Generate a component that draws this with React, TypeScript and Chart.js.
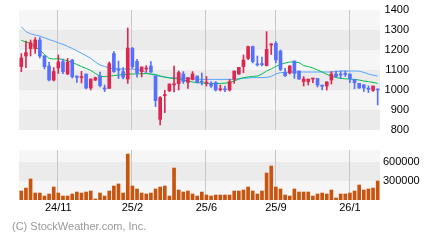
import React, { useEffect, useRef } from "react";
import { Chart, registerables } from "chart.js";
Chart.register(...registerables);

const opens = [1117,1170,1207,1207,1250,1170,1120,1050,1110,1142, 1080,1150,1070,1062,1080,1010,1050,1070,1008,1008, 1182,1103,1092,1055,1208,1143,1092,1105,1120,1070, 853,972,996,1026,1032,1080,1038,1053,1070,1042, 1034,1033,1037,1001,1004,1000,1053,1080,1117,1158, 1217,1130,1130,1122,1225,1233,1195,1087,1085,1145, 1095,1042,1042,1055,1058,1022,1020,1050,1080,1078, 1081,1080,1053,1033,1025,1007,998,1003];
const highs = [1182,1245,1250,1262,1262,1172,1138,1112,1175,1155, 1158,1153,1070,1093,1080,1055,1065,1090,1025,1140, 1192,1145,1112,1310,1213,1153,1115,1122,1142,1070, 967,998,1030,1120,1095,1092,1062,1092,1070,1085, 1068,1042,1042,1025,1020,1053,1095,1113,1175,1220, 1220,1170,1165,1292,1232,1242,1200,1108,1122,1145, 1095,1067,1055,1058,1058,1025,1042,1092,1095,1095, 1095,1080,1053,1033,1028,1020,1020,1005];
const lows = [1092,1112,1170,1183,1160,1105,1045,1045,1083,1082, 1077,1060,1038,1035,1005,1000,1047,1015,992,1008, 1088,1057,1056,1033,1108,1064,1065,1090,1087,917, 825,887,992,990,1000,1033,1008,1050,1035,1025, 1020,1013,995,995,992,995,1033,1078,1087,1152, 1135,1120,1120,1120,1178,1135,1097,1067,1080,1058, 1053,1020,1025,1037,1015,1000,1000,1030,1065,1058, 1068,1037,1006,1008,992,987,993,925];
const closes = [1160,1187,1237,1250,1170,1117,1050,1092,1140,1092, 1140,1067,1063,1066,1010,1055,1062,1022,1005,1132, 1092,1099,1064,1210,1117,1085,1115,1110,1090,947, 962,976,1030,1030,1087,1042,1062,1080,1038,1039, 1037,1020,1000,1004,1001,1042,1095,1113,1150,1217, 1142,1126,1127,1203,1230,1150,1103,1072,1120,1083, 1055,1055,1054,1058,1025,1019,1040,1080,1067,1075, 1078,1056,1037,1010,1010,1004,1020,1000];
const maLong = [1316,1292,1281,1275,1270,1261,1252,1245,1236,1228, 1218,1208,1196,1184,1172,1158,1140,1125,1118,1110, 1107,1106,1105,1105,1104,1102,1098,1086,1078,1073, 1068,1064,1062,1062,1061,1060,1058,1056,1054,1053, 1053,1053,1053,1053,1053,1053,1054,1056,1058,1060, 1062,1062,1062,1063,1068,1080,1087,1088,1090,1090, 1090,1090,1090,1090,1090,1090,1090,1090,1092,1095, 1095,1095,1095,1094,1088,1080,1074,1070];
const maShort = [1248,1240,1232,1215,1200,1177,1158,1155,1157,1152, 1146,1138,1128,1117,1108,1098,1083,1068,1067,1070, 1072,1075,1077,1080,1080,1080,1082,1082,1080,1078, 1070,1065,1060,1057,1055,1050,1045,1040,1037,1035, 1033,1033,1033,1033,1034,1037,1045,1055,1062,1065, 1068,1070,1080,1095,1105,1118,1128,1135,1140,1140, 1137,1122,1117,1110,1100,1090,1078,1070,1062,1058, 1056,1055,1053,1050,1045,1042,1038,1033];
const volumes = [142,189,332,110,110,63,95,205,110,63, 63,95,126,110,126,142,16,110,63,142, 221,253,110,726,221,174,110,95,110,174, 205,221,63,505,158,126,142,95,63,126, 79,63,79,79,79,79,142,142,158,205, 142,95,142,426,537,205,174,79,63,174, 126,126,126,63,95,110,95,158,32,95, 95,110,142,237,158,174,189,300].map((v) => v * 1000);
const tickIndex = [8, 24, 40, 55, 71];
const tickText = ["24/11", "25/2", "25/6", "25/9", "26/1"];
const priceTicks = [800, 900, 1000, 1100, 1200, 1300, 1400];
const volumeTicks = [300000, 600000];
const categories = opens.map((_, i) => "W" + (i + 1));

const UP = "#dc2850";
const DOWN = "#5570ff";
const LIGHT = "#f6f6f6";
const DARK = "#ebebeb";
const GRID = "#c8c8c8";
const FONT = { family: "'Liberation Sans', Arial, sans-serif", size: 11 };

const bgPlugin = {
  id: "bgbands",
  beforeDatasetsDraw(chart: any, _args: any, opts: any) {
    const { ctx, chartArea: a, scales } = chart;
    const y = scales.y;
    const x = scales.x;
    ctx.save();
    ctx.fillStyle = LIGHT;
    ctx.fillRect(a.left, a.top, a.right - a.left, a.bottom - a.top);
    ctx.fillStyle = DARK;
    for (const [lo, hi] of opts.dark || []) {
      const t = y.getPixelForValue(hi);
      const b = y.getPixelForValue(lo);
      ctx.fillRect(a.left, t, a.right - a.left, b - t);
    }
    ctx.strokeStyle = GRID;
    ctx.lineWidth = 1;
    for (const i of tickIndex) {
      const px = Math.round(x.getPixelForValue(i) - 1) + 0.5;
      ctx.beginPath();
      ctx.moveTo(px, a.top);
      ctx.lineTo(px, a.bottom);
      ctx.stroke();
    }
    ctx.restore();
  },
};

export default function App() {
  const priceRef = useRef<HTMLCanvasElement>(null);
  const volRef = useRef<HTMLCanvasElement>(null);

  useEffect(() => {
    const colors = opens.map((o, i) => (closes[i] >= o ? UP : DOWN));
    const price = new Chart(priceRef.current!, {
      type: "bar",
      data: {
        labels: categories,
        datasets: [
          {
            type: "line",
            data: maLong,
            borderColor: "#55a5ff",
            borderWidth: 1,
            pointRadius: 0,
            tension: 0,
            order: 5,
          } as any,
          {
            type: "line",
            data: maShort,
            borderColor: "#00bf4c",
            borderWidth: 1,
            pointRadius: 0,
            tension: 0,
            order: 4,
          } as any,
          {
            data: lows.map((l, i) => [l, highs[i]]),
            backgroundColor: colors,
            barThickness: 1,
            grouped: false,
            order: 2,
          } as any,
          {
            data: opens.map((o, i) => [o, closes[i]]),
            backgroundColor: colors,
            barThickness: 3,
            minBarLength: 1,
            grouped: false,
            order: 1,
          } as any,
        ],
      },
      options: {
        animation: false,
        responsive: false,
        devicePixelRatio: 1,
        events: [],
        layout: { padding: { left: 19, top: 10, bottom: 10, right: 31 } },
        plugins: {
          legend: { display: false },
          tooltip: { enabled: false },
          bgbands: { dark: [[800, 900], [1000, 1100], [1200, 1300]] },
        } as any,
        scales: {
          x: { type: "category", display: false, offset: true },
          y: {
            position: "right",
            min: 800,
            max: 1400,
            afterBuildTicks: (ax: any) => {
              ax.ticks = priceTicks.map((v) => ({ value: v }));
            },
            afterFit: (ax: any) => {
              ax.width = 29;
            },
            grid: { display: false, drawTicks: false },
            border: { display: false },
            ticks: {
              color: "#000",
              font: FONT,
              padding: 0,
              crossAlign: "far",
              callback: (v: any) => String(v),
            },
          },
        },
      },
      plugins: [bgPlugin],
    });

    const vol = new Chart(volRef.current!, {
      type: "bar",
      data: {
        labels: categories,
        datasets: [
          {
            data: volumes,
            backgroundColor: "#c8550f",
            barThickness: 3,
          },
        ],
      },
      options: {
        animation: false,
        responsive: false,
        devicePixelRatio: 1,
        events: [],
        layout: { padding: { left: 19, top: 10, bottom: 25, right: 0 } },
        plugins: {
          legend: { display: false },
          tooltip: { enabled: false },
          bgbands: { dark: [[300000, 600000]] },
        } as any,
        scales: {
          x: {
            type: "category",
            offset: true,
            grid: { display: false, drawTicks: false },
            border: { display: false },
            afterFit: (ax: any) => {
              ax.height = 15;
            },
            ticks: {
              autoSkip: false,
              maxRotation: 0,
              minRotation: 0,
              padding: 1,
              color: "#000",
              font: FONT,
              callback: (_v: any, i: number) => {
                const k = tickIndex.indexOf(i);
                return k >= 0 ? tickText[k] : "";
              },
            },
          },
          y: {
            position: "right",
            min: 0,
            max: 790000,
            afterBuildTicks: (ax: any) => {
              ax.ticks = volumeTicks.map((v) => ({ value: v }));
            },
            afterFit: (ax: any) => {
              ax.width = 60;
            },
            grid: { display: false, drawTicks: false },
            border: { display: false },
            ticks: {
              color: "#000",
              font: FONT,
              padding: 3,
              callback: (v: any) => String(v),
            },
          },
        },
      },
      plugins: [bgPlugin],
    });

    return () => {
      price.destroy();
      vol.destroy();
    };
  }, []);

  return (
    <div
      style={{
        position: "fixed",
        left: 0,
        top: 0,
        width: 440,
        height: 240,
        background: "#fff",
        overflow: "hidden",
      }}
    >
      <canvas
        ref={priceRef}
        width={440}
        height={140}
        style={{ position: "absolute", left: 0, top: 0, width: 440, height: 140 }}
      />
      <canvas
        ref={volRef}
        width={440}
        height={100}
        style={{ position: "absolute", left: 0, top: 140, width: 440, height: 100 }}
      />
      <div
        style={{
          position: "absolute",
          left: 12,
          top: 220,
          fontFamily: "'Liberation Sans', Arial, sans-serif",
          fontSize: 11,
          lineHeight: "13px",
          color: "#999",
          whiteSpace: "nowrap",
        }}
      >
        (C) StockWeather.com, Inc.
      </div>
    </div>
  );
}
